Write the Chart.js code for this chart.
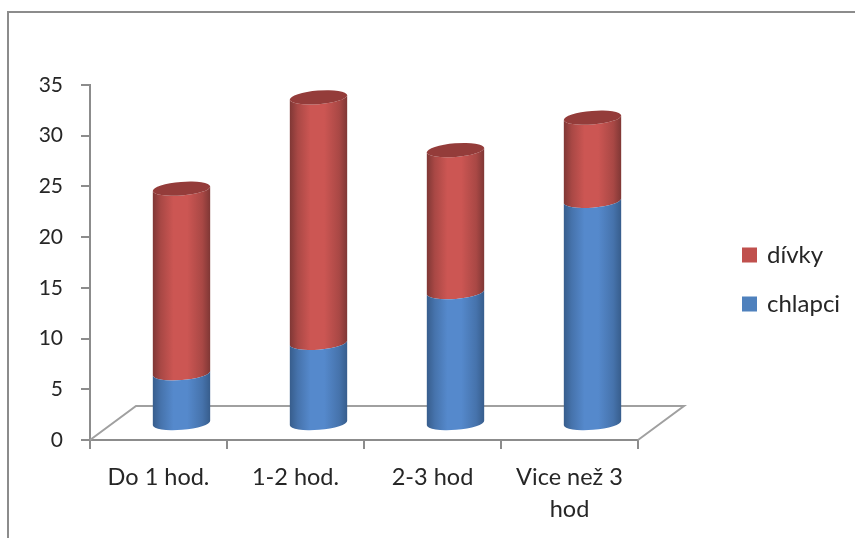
<!DOCTYPE html>
<html>
<head>
<meta charset="utf-8">
<script src="https://cdn.jsdelivr.net/npm/chart.js@4"></script>
<style>
  html, body { margin: 0; padding: 0; background: #fff; }
  #wrap { position: relative; width: 855px; height: 538px; overflow: hidden; }
  #frame { position: absolute; left: 7px; top: 11px; right: -4px; bottom: -4px;
           border-left: 2px solid #8c8c8c; border-top: 2px solid #8c8c8c; }
  canvas { position: absolute; left: 0; top: 0; filter: blur(0.4px); }
</style>
</head>
<body>
<div id="wrap">
  <div id="frame"></div>
  <canvas id="chart" width="855" height="538"></canvas>
</div>
<script>
  var categories = ['Do 1 hod.', '1-2 hod.', '2-3 hod', ['Vice než 3', 'hod']];
  var chlapci = [5, 8, 13, 22];
  var divky = [18.2, 24.2, 14, 8.2];
  var yTicks = [0, 5, 10, 15, 20, 25, 30, 35];

  var FONT = 'Lato, "Open Sans", sans-serif';
  var TEXT = '#262626';
  var AXIS = '#8c8c8c';

  // Shift of the cylinders' middle and of the back floor edge, the chart is a flat 2D one
  var MID_X = 23, MID_Y = -16;
  var BACK_X = 46, BACK_Y = -34;
  var TILT = -0.08, CAP_RY = 6.8;

  var SHADES = [
    { edge: '#7f3735', mid: '#a94845', peak: '#cc5653', cap: '#943c3a' },  // red
    { edge: '#375d8c', mid: '#4673ac', peak: '#5589cc', cap: '#3f6a9e' }   // blue
  ];

  function bodyGradient(ctx, left, right, s) {
    var g = ctx.createLinearGradient(left, 0, right, 0);
    g.addColorStop(0, s.edge);
    g.addColorStop(0.14, s.mid);
    g.addColorStop(0.36, s.peak);
    g.addColorStop(0.6, s.peak);
    g.addColorStop(0.86, s.mid);
    g.addColorStop(1, s.edge);
    return g;
  }

  var cylinders = {
    id: 'cylinders',
    // back and side edges of the floor, under the bars
    beforeDatasetsDraw: function (chart) {
      var c = chart.ctx, x = chart.scales.x, y = chart.scales.y;
      var y0 = y.getPixelForValue(0);
      c.save();
      c.strokeStyle = '#a0a0a0';
      c.lineWidth = 2;
      c.beginPath();
      c.moveTo(x.left, y0);
      c.lineTo(x.left + BACK_X, y0 + BACK_Y);
      c.lineTo(x.right + BACK_X, y0 + BACK_Y);
      c.lineTo(x.right, y0);
      c.stroke();
      c.restore();
    },
    beforeDatasetDraw: function (chart, args) {
      var c = chart.ctx;
      var isTop = args.index === 1;
      var s = SHADES[isTop ? 0 : 1];
      args.meta.data.forEach(function (bar) {
        var cx = bar.x + MID_X, rx = bar.width / 2;
        var top = bar.y + MID_Y, bottom = bar.base + MID_Y;
        c.save();
        c.beginPath();
        c.ellipse(cx, bottom, rx, CAP_RY, TILT, 0, Math.PI);
        c.ellipse(cx, top, rx, CAP_RY, TILT, Math.PI, 0, true);
        c.closePath();
        c.fillStyle = bodyGradient(c, cx - rx, cx + rx, s);
        c.fill();
        if (isTop) {
          c.beginPath();
          c.ellipse(cx, top, rx, CAP_RY, TILT, 0, Math.PI * 2);
          c.fillStyle = s.cap;
          c.fill();
        }
        c.restore();
      });
      return false;
    },
    // put the legend beside the plot, position chartArea leaves the axes alone
    afterLayout: function (chart) {
      var l = chart.legend;
      l.left = 719; l.right = 855;
      l.top = 218; l.bottom = 345;
    }
  };

  new Chart(document.getElementById('chart'), {
    type: 'bar',
    data: {
      labels: categories,
      datasets: [
        // border only thickens the legend swatch, the cylinders are drawn by the plugin
        { label: 'chlapci', data: chlapci, backgroundColor: '#4f81bd', borderColor: '#4f81bd', borderWidth: 4 },
        { label: 'dívky', data: divky, backgroundColor: '#c0504d', borderColor: '#c0504d', borderWidth: 4 }
      ]
    },
    plugins: [cylinders],
    options: {
      responsive: false,
      animation: false,
      layout: { padding: { left: 0, top: 85, right: 217, bottom: 0 } },
      datasets: { bar: { categoryPercentage: 1, barPercentage: 0.42 } },
      plugins: {
        tooltip: { enabled: false },
        legend: {
          position: 'chartArea',
          align: 'start',
          reverse: true,
          labels: {
            boxWidth: 11,
            boxHeight: 11,
            padding: 25,
            color: TEXT,
            font: { family: FONT, size: 24 }
          }
        }
      },
      scales: {
        x: {
          stacked: true,
          afterFit: function (s) { s.height = 98; },
          border: { color: AXIS, width: 2 },
          grid: { display: true, drawOnChartArea: false, color: AXIS, lineWidth: 2, tickLength: 9 },
          ticks: { color: TEXT, padding: 12, maxRotation: 0, autoSkip: false, font: { family: FONT, size: 23.5, lineHeight: 1.36 } }
        },
        y: {
          stacked: true,
          min: 0,
          max: 35,
          afterFit: function (s) { s.width = 90; },
          afterBuildTicks: function (s) { s.ticks = yTicks.map(function (v) { return { value: v }; }); },
          border: { color: AXIS, width: 2 },
          grid: { drawOnChartArea: false, color: AXIS, lineWidth: 2, tickLength: 9 },
          ticks: { color: TEXT, padding: 18, font: { family: FONT, size: 21 } }
        }
      }
    }
  });
</script>
</body>
</html>
